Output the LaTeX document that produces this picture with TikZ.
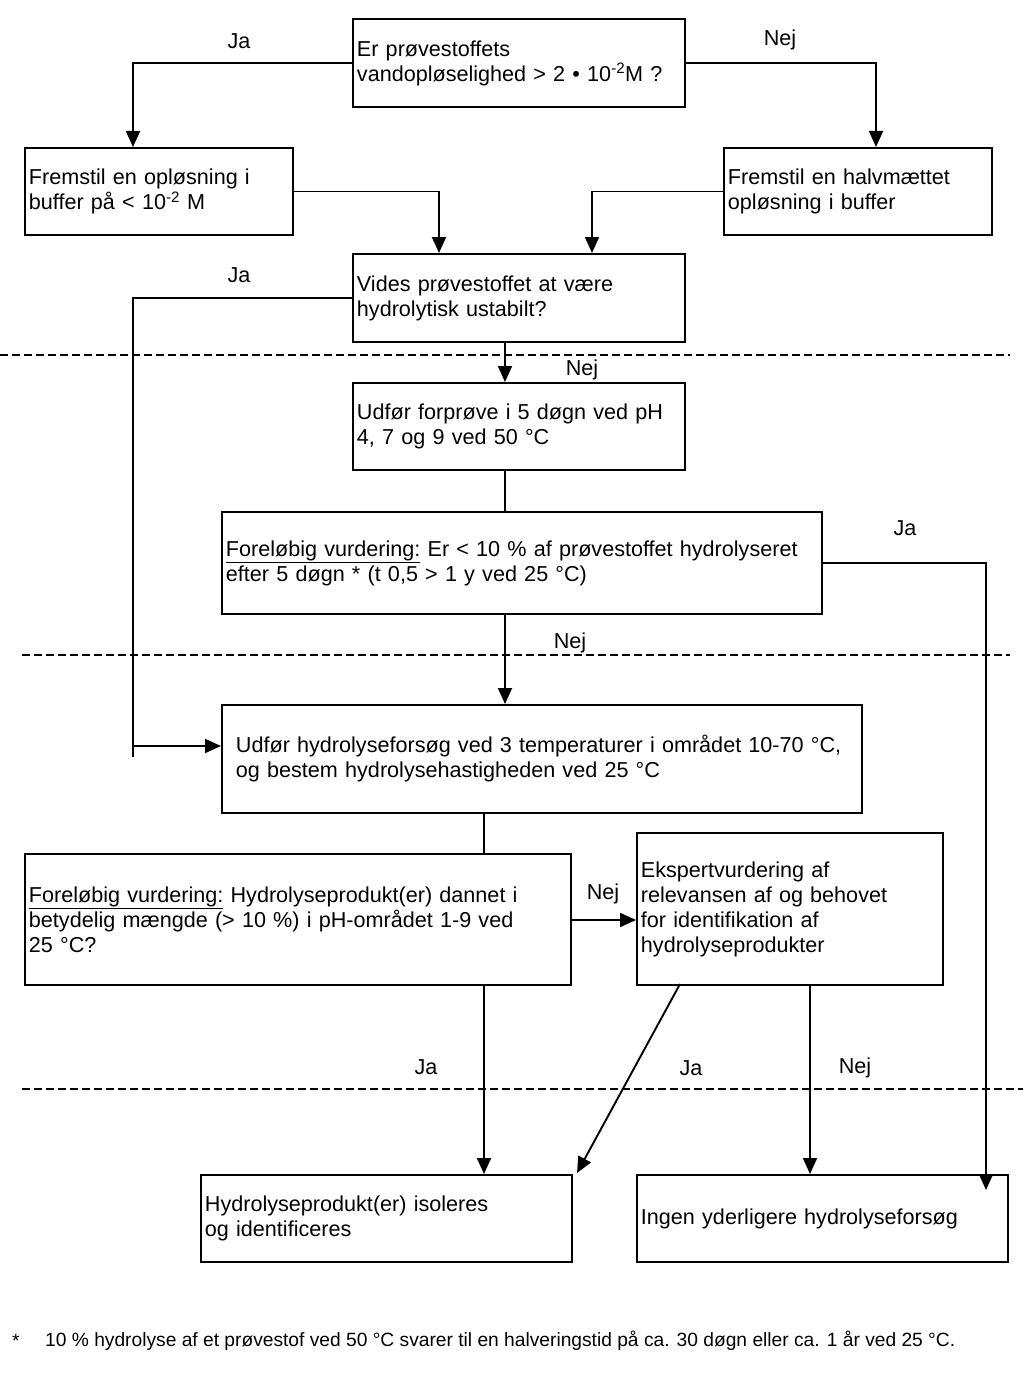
\documentclass[tikz,border=0pt]{standalone}
\usepackage{fontspec}
\setmainfont{Liberation Sans}
\usetikzlibrary{arrows.meta,calc}
\begin{document}
\begin{tikzpicture}[x=1pt,y=-1pt,
  every node/.style={font=\fontsize{21.6}{25}\selectfont},
  box/.style={draw,line width=1.9pt,rectangle,anchor=north west,align=left,inner xsep=4pt,inner ysep=0pt},
  lbl/.style={inner sep=0pt},
  ln/.style={line width=1.9pt},
  arr/.style={line width=1.9pt,-{Triangle[length=16pt,width=14pt]}},
  sep/.style={line width=1.5pt,dash pattern=on 8pt off 4pt}
]
\useasboundingbox (0,0) rectangle (1023,1378);
% boxes
\node[box,minimum width=332pt,minimum height=88pt,text width=324pt] (b1) at (352,18) {Er prøvestoffets\\vandopløselighed > 2 • 10\textsuperscript{-2}M ?};
\node[box,minimum width=268pt,minimum height=87pt,text width=260pt] (b2) at (24,147) {Fremstil en opløsning i\\buffer på < 10\textsuperscript{-2} M};
\node[box,minimum width=268pt,minimum height=87pt,text width=260pt] (b3) at (723,147) {Fremstil en halvmættet\\opløsning i buffer};
\node[box,minimum width=332pt,minimum height=88pt,text width=324pt] (b4) at (352,253) {Vides prøvestoffet at være\\hydrolytisk ustabilt?};
\node[box,minimum width=332pt,minimum height=87pt,text width=324pt] (b5) at (352,382) {Udfør forprøve i 5 døgn ved pH\\4, 7 og 9 ved 50 °C};
\node[box,minimum width=600pt,minimum height=102pt,text width=592pt] (b6) at (221,511) {\underline{Foreløbig vurdering:} Er < 10 \% af prøvestoffet hydrolyseret\\efter 5 døgn * (t 0,5 > 1 y ved 25 °C)};
\node[box,minimum width=640pt,minimum height=108pt,text width=612pt,inner xsep=14pt] (b7) at (221,704) {Udfør hydrolyseforsøg ved 3 temperaturer i området 10-70 °C,\\og bestem hydrolysehastigheden ved 25 °C};
\node[box,minimum width=546pt,minimum height=131pt,text width=538pt] (b8) at (24,853) {\underline{Foreløbig vurdering:} Hydrolyseprodukt(er) dannet i\\betydelig mængde (> 10 \%) i pH-området 1-9 ved\\25 °C?};
\node[box,minimum width=306pt,minimum height=152pt,text width=298pt] (b9) at (636,832) {Ekspertvurdering af\\relevansen af og behovet\\for identifikation af\\hydrolyseprodukter};
\node[box,minimum width=371pt,minimum height=87pt,text width=363pt] (b10) at (200,1174) {Hydrolyseprodukt(er) isoleres\\og identificeres};
\node[box,minimum width=371pt,minimum height=87pt,text width=363pt] (b11) at (636,1174) {Ingen yderligere hydrolyseforsøg};
% helper coordinates
\coordinate (c4down) at (133,757);
\coordinate (c4arr) at (133,746);
\coordinate (c6end) at (986,1190);
\coordinate (c8e) at (570,920);
\coordinate (c9a) at (680,984);
\coordinate (c10a) at (577,1173);
% dashed separators
\draw[sep] (0,355) -- (1010,355);
\draw[sep] (22,655) -- (1010,655);
\draw[sep] (22,1089) -- (1023,1089);
% connectors
\draw[arr] (b1.west) -| ([xshift=109pt]b2.north west);
\draw[arr] (b1.east) -| ([xshift=153pt]b3.north west);
\draw[arr] (b2.east) -| ([xshift=87pt]b4.north west);
\draw[arr] (b3.west) -| ([xshift=240pt]b4.north west);
\draw[ln] (b4.west) -| (c4down);
\draw[arr] (c4arr) -- (b7.west |- c4arr);
\draw[arr] ([xshift=153pt]b4.south west) -- ([xshift=153pt]b5.north west);
\draw[ln] ([xshift=153pt]b5.south west) -- ([xshift=284pt]b6.north west);
\draw[arr] (b6.east) -| (c6end);
\draw[arr] ([xshift=284pt]b6.south west) -- ([xshift=284pt]b7.north west);
\draw[ln] ([xshift=263pt]b7.south west) -- ([xshift=460pt]b8.north west);
\draw[arr] (c8e) -- (b9.west |- c8e);
\draw[arr] ([xshift=460pt]b8.south west) -- ([xshift=284pt]b10.north west);
\draw[arr] (c9a) -- (c10a);
\draw[arr] ([xshift=174pt]b9.south west) -- ([xshift=174pt]b11.north west);
% labels
\node[lbl] (l1) at (239,41) {Ja};
\node[lbl] (l2) at (780,40) {Nej};
\node[lbl] (l3) at (239,275) {Ja};
\node[lbl] (l4) at (582,370) {Nej};
\node[lbl] (l5) at (905,528) {Ja};
\node[lbl] (l6) at (570,643) {Nej};
\node[lbl] (l7) at (603,894) {Nej};
\node[lbl] (l8) at (426,1067) {Ja};
\node[lbl] (l9) at (691,1068) {Ja};
\node[lbl] (l10) at (855,1068) {Nej};
% footnote
\node[lbl,anchor=west,font=\fontsize{19.2}{22}\selectfont] (fs) at (12,1341) {*};
\node[lbl,anchor=west,font=\fontsize{19.2}{22}\selectfont] (fn) at (45,1341) {10 \% hydrolyse af et prøvestof ved 50 °C svarer til en halveringstid på ca. 30 døgn eller ca. 1 år ved 25 °C.};
\end{tikzpicture}
\end{document}
